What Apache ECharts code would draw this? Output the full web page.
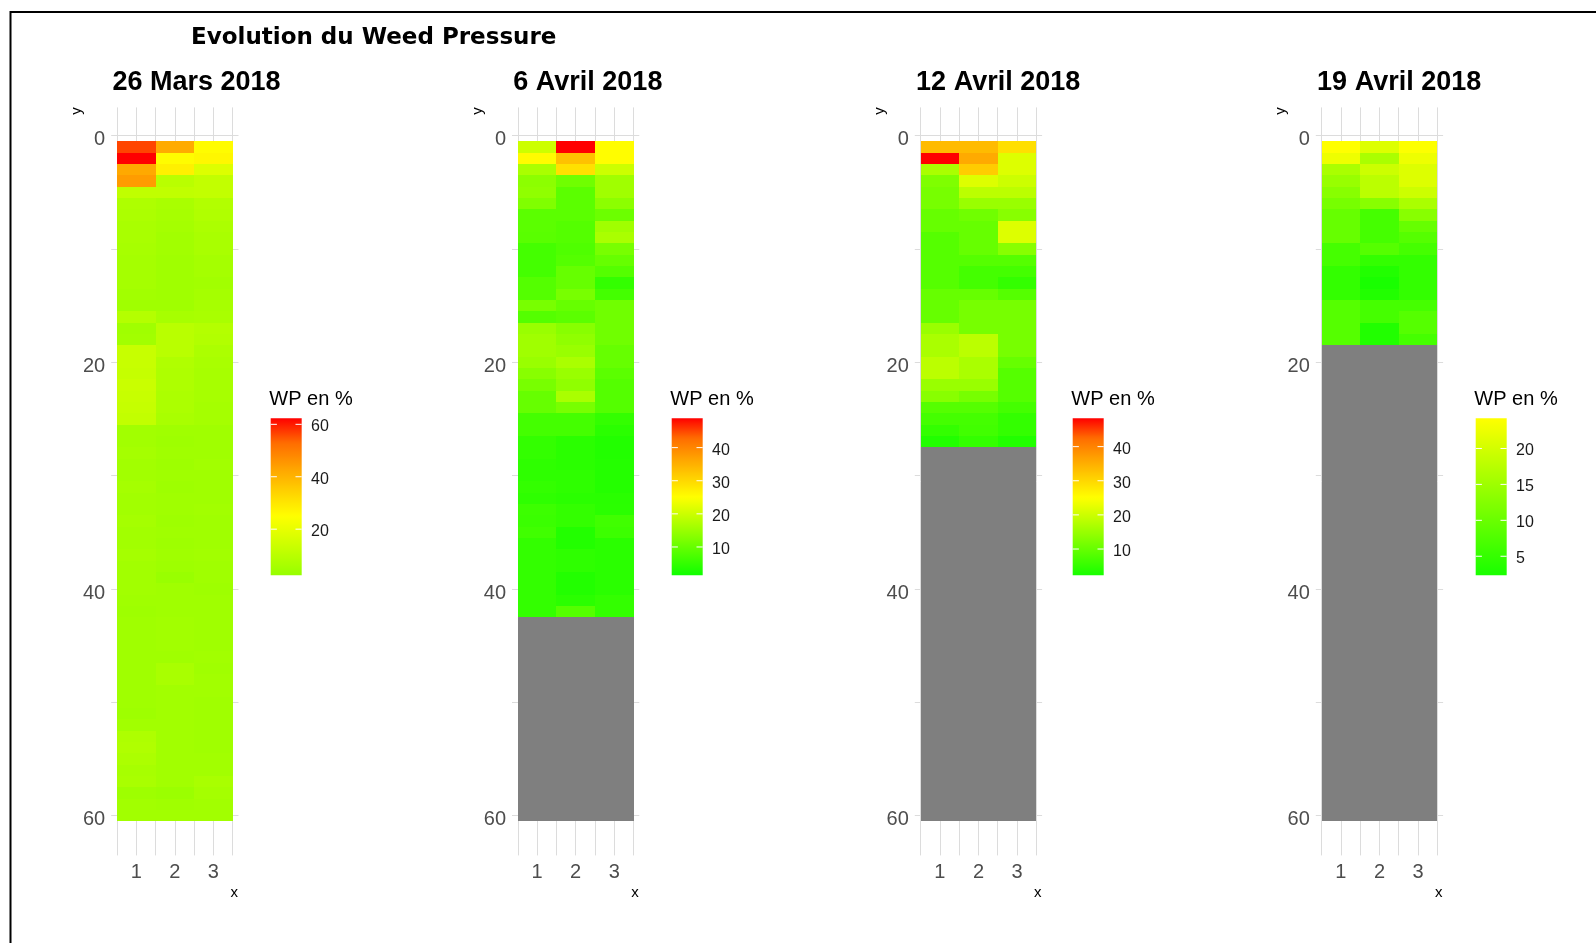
<!DOCTYPE html>
<html>
<head>
<meta charset="utf-8">
<script src="https://cdn.jsdelivr.net/npm/echarts@6/dist/echarts.min.js"></script>
<style>
html,body{margin:0;padding:0;background:#ffffff;}
#chart{width:1596px;height:943px;}
</style>
</head>
<body>
<div id="chart"></div>
<script>
// ---------------- DATA ----------------
const mainTitle = 'Evolution du Weed Pressure';
const panelTitles = ['26 Mars 2018', '6 Avril 2018', '12 Avril 2018', '19 Avril 2018'];
const xValues = [1, 2, 3];
const xGridValues = [0.5, 1, 1.5, 2, 2.5, 3, 3.5];
const yTickValues = [0, 20, 40, 60];
const yGridValues = [0, 10, 20, 30, 40, 50, 60];
const nRows = 60;            // rows y = 1..60 ; rows without a value are NA (grey)
const legendTitle = 'WP en %';

// WP values (%), one array per column x, row y = index + 1
const mars26_x1 = [56.3,62.3,42,44.5,11.5,7.5,7,6.5,6.5,6,5.5,5.5,5.5,5,4.5,9,4.5,5,13,13,12.5,13.5,13,12.5,12,5,5,5.5,5,5,5.5,5,5,5.5,5,5,5.5,5,5,5,4.5,4,4.5,4.5,4.5,4.5,4.5,4.5,4.5,4.5,4,5,7.5,8,7,6,6.5,4,5,5];
const mars26_x2 = [41.8,25.5,28,10,11.5,6.5,6,5.5,5,5,4.5,4.5,4.5,4.5,4.5,6,10,10,10,8,7.5,7.5,7,7,6.5,4.5,4,4.5,4,4.5,4,4.5,4.5,4,4.5,4,4.5,4,3,4.5,4.5,4.5,5,5,5,4.5,6.5,6.5,5,5,5,5,5,5,5,5,5,3.5,4.5,5];
const mars26_x3 = [25.5,26.5,17.5,12,12,8.5,8,7,6.5,6.5,5.5,5.5,5,5.5,6,6.5,9,8.5,7,6.5,6,6,6,5.5,5.5,4.5,4.5,4.5,5,4.5,4.5,4.5,5,4.5,4.5,4.5,5,4.5,4.5,4,4.5,4.5,4.5,4.5,4.5,5,4.5,5,5,4.5,4.5,4.5,4.5,4.5,5,5,6.5,5.5,5,5];

const avril6_x1 = [20,25.5,16.7,13.7,14.1,12.5,9,9,8.8,6.7,6.7,6.7,8.3,8.3,11.7,8.3,15,15.7,15.7,15,13.3,11.7,10,10,6.7,6.7,5,5,4.5,4.5,5,4.5,5.9,5.7,6.3,5,5,5,5,5,5,5];
const avril6_x2 = [48.85,33,29,11,9,9,9,8.3,8.3,7.8,8.3,10,10,11.7,10,9,13.3,14.1,15,16.7,15,14.1,16.7,11.7,6.7,6.7,4.1,4.1,4.1,4.5,4.5,4.1,5,5,3.3,3.3,4.5,4.5,3.3,3.3,4.1,8.3];
const avril6_x3 = [25.3,25.3,20,15.7,15.7,13.7,10.6,15.7,16.7,11.7,10,8.3,5,6.7,11,11,11,11,10,10,9,8.3,8.3,8.3,5,4.1,3.3,3.3,3.5,3.5,3.5,4,4.1,6.3,5.9,4.1,4.1,4.1,4.1,4.1,5,5];

const avril12_x1 = [33.5,48.3,16.7,12.5,11.7,11.7,10,10,8.3,8.3,8.3,8.3,8.3,10,10,10,15,16.7,16.7,18.3,18.3,15,13.3,8.3,6.7,5,3.3];
const avril12_x2 = [33.5,35.5,31.4,21.7,18.3,15,11,10,10,10,8.3,6.7,6.7,10,11.7,11.7,11.7,18.3,18.3,16.7,16.7,15,11.7,8.3,6.7,6.3,5];
const avril12_x3 = [29,21.7,21.7,20,18.3,15,13.3,21.7,21.7,13.3,8.3,6.7,5,8.3,11.7,11.7,11.7,11.7,11.7,10,8.3,8.3,8.3,6.7,5,5,3.3];

const avril19_x1 = [24.2,22.6,16.1,14.5,12.9,11.3,9.7,9.7,9.7,6.5,6.5,4.8,4.8,4.8,8.1,8.1,8.1,8.1];
const avril19_x2 = [21,16.1,19.4,17.7,17.7,12.9,6.5,6.5,6.5,8.1,4.8,3.2,2.35,3.2,6.5,6.5,3.2,3.2];
const avril19_x3 = [24,22.6,21,21,19.4,16.1,12.9,9.7,8.1,6.5,4.8,4.8,4.8,4.8,6.5,8.1,8.1,6.5];

// colour-bar limits and labels per panel
const legendMin = [2.4, 1.45, 2.3, 2.35];
const legendMax = [62.3, 48.85, 48.3, 24.2];
const legendTicks = [[20, 40, 60], [10, 20, 30, 40], [10, 20, 30, 40], [5, 10, 15, 20]];

const panelColumns = [
  [mars26_x1, mars26_x2, mars26_x3],
  [avril6_x1, avril6_x2, avril6_x3],
  [avril12_x1, avril12_x2, avril12_x3],
  [avril19_x1, avril19_x2, avril19_x3]
];

// ---------------- STYLE / LAYOUT ----------------
const FONT = '"Liberation Sans", Arial, sans-serif';
const gridLefts = [111.2, 512, 914.8, 1315.8];
const gridTop = 107.4, gridW = 127.3, gridH = 748;
const barLefts = [270.7, 671.7, 1072.7, 1475.7];
const barTop = 418.3, barH = 157, barW = 31;
// colour scales: green anchor, yellow anchor, red anchor (value space)
const colourScales = [
  {green: -30, yellow: 25, red: 62.3},
  {green: 0, yellow: 25, red: 48.85},
  {green: 0, yellow: 25, red: 48.3},
  {green: 0, yellow: 24.2, red: 50}
];
const redRamp = ['#ffff00', '#ffd100', '#ffa100', '#ff6c00', '#ff0000'];

function hexToRgb(h) { return [parseInt(h.slice(1,3),16), parseInt(h.slice(3,5),16), parseInt(h.slice(5,7),16)]; }
function rgbStr(c) { return 'rgb(' + c.map(v => Math.round(Math.max(0, Math.min(255, v)))).join(',') + ')'; }
function colourAt(v, sc) {
  if (v <= sc.yellow) {
    const t = Math.max(0, (v - sc.green) / (sc.yellow - sc.green));
    return [255 * t, 255, 0];
  }
  const s = Math.min(1, (v - sc.yellow) / (sc.red - sc.yellow)) * 4;
  const i = Math.min(3, Math.floor(s));
  const f = s - i;
  const a = hexToRgb(redRamp[i]), b = hexToRgb(redRamp[i + 1]);
  return a.map((x, k) => x + (b[k] - x) * f);
}
function samples(i, n) {
  const out = [];
  for (let k = 0; k <= n; k++) {
    const v = legendMin[i] + (legendMax[i] - legendMin[i]) * k / n;
    out.push(rgbStr(colourAt(v, colourScales[i])));
  }
  return out;
}

// ---------------- BUILD ----------------
const chart = echarts.init(document.getElementById('chart'), null, {renderer: 'canvas'});

const grids = [], xAxes = [], yAxes = [], series = [], visualMaps = [], graphics = [];

graphics.push({type: 'rect', shape: {x: 10.5, y: 12, width: 1600, height: 960},
  style: {fill: 'none', stroke: '#000', lineWidth: 2}, z: 100});
graphics.push({type: 'text', x: 191, y: 38.5,
  style: {text: mainTitle, fontSize: 23, fontWeight: 'bold', fontFamily: '"DejaVu Sans", sans-serif',
    fill: '#000', align: 'left', verticalAlign: 'middle'}});

panelColumns.forEach((cols, i) => {
  grids.push({left: gridLefts[i], top: gridTop, width: gridW, height: gridH, containLabel: false});
  const axisTextStyle = {fontSize: 20, color: '#4d4d4d', fontFamily: FONT};
  const gridLineStyle = {color: '#dcdcdc', width: 1};
  xAxes.push({type: 'value', gridIndex: i, min: 0.35, max: 3.65,
    axisLine: {show: false},
    axisTick: {show: false, customValues: xGridValues},
    axisLabel: Object.assign({customValues: xValues, margin: 7}, axisTextStyle),
    splitLine: {show: true, lineStyle: gridLineStyle}});
  yAxes.push({type: 'value', gridIndex: i, inverse: true, min: -2.5, max: 63.5,
    axisLine: {show: false},
    axisTick: {show: false, customValues: yGridValues},
    axisLabel: Object.assign({customValues: yTickValues, margin: 6,
      formatter: '{a|{value}}',
      rich: {a: {fontSize: 20, color: '#4d4d4d', fontFamily: FONT, padding: [8, 0, 0, 0]}}}, axisTextStyle),
    splitLine: {show: true, lineStyle: gridLineStyle}});

  const data = [];
  for (let r = 1; r <= nRows; r++) {
    for (let c = 0; c < xValues.length; c++) {
      const v = cols[c][r - 1];
      data.push([xValues[c], r, (v === undefined || v === null) ? null : v]);
    }
  }
  series.push({type: 'custom', xAxisIndex: i, yAxisIndex: i, silent: true,
    encode: {x: 0, y: 1},
    data: data,
    renderItem: function (params, api) {
      const x = api.value(0), y = api.value(1), v = api.value(2);
      const p1 = api.coord([x - 0.5, y - 0.5]);
      const p2 = api.coord([x + 0.5, y + 0.5]);
      const x0 = Math.round(Math.min(p1[0], p2[0])), x1 = Math.round(Math.max(p1[0], p2[0]));
      const y0 = Math.round(Math.min(p1[1], p2[1])), y1 = Math.round(Math.max(p1[1], p2[1]));
      const na = (v === null || v === undefined || isNaN(v));
      const fill = na ? '#7f7f7f' : api.visual('color');
      return {type: 'rect',
        shape: {x: x0, y: y0, width: x1 - x0, height: y1 - y0},
        style: {fill: fill}};
    }});
  visualMaps.push({type: 'continuous', show: false, seriesIndex: i, dimension: 2,
    min: legendMin[i], max: legendMax[i], inRange: {color: samples(i, 80)}});

  // panel title
  graphics.push({type: 'text', x: gridLefts[i] + 1.3, y: 83,
    style: {text: panelTitles[i], fontSize: 27, fontWeight: 'bold', fontFamily: FONT,
      fill: '#000', align: 'left', verticalAlign: 'middle'}});
  // axis titles
  graphics.push({type: 'text', x: gridLefts[i] - 34.5, y: 111, rotation: Math.PI / 2,
    style: {text: 'y', fontSize: 15, fontFamily: FONT, fill: '#000', align: 'center', verticalAlign: 'middle'}});
  graphics.push({type: 'text', x: gridLefts[i] + gridW - 4.3, y: 892.5,
    style: {text: 'x', fontSize: 15, fontFamily: FONT, fill: '#000', align: 'center', verticalAlign: 'middle'}});

  // colour bar legend
  const stops = [];
  const n = 60;
  for (let k = 0; k <= n; k++) {
    const v = legendMin[i] + (legendMax[i] - legendMin[i]) * k / n;
    stops.push({offset: k / n, color: rgbStr(colourAt(v, colourScales[i]))});
  }
  const bl = barLefts[i];
  graphics.push({type: 'text', x: bl - 1.4, y: 399.5,
    style: {text: legendTitle, fontSize: 20, fontFamily: FONT, fill: '#000', align: 'left', verticalAlign: 'middle'}});
  graphics.push({type: 'rect', shape: {x: bl, y: barTop, width: barW, height: barH},
    style: {fill: {type: 'linear', x: 0, y: 1, x2: 0, y2: 0, colorStops: stops}}});
  legendTicks[i].forEach(t => {
    const ty = barTop + barH * (1 - (t - legendMin[i]) / (legendMax[i] - legendMin[i]));
    graphics.push({type: 'line', shape: {x1: bl, y1: ty, x2: bl + 6.2, y2: ty}, style: {stroke: '#ffffff', lineWidth: 1}});
    graphics.push({type: 'line', shape: {x1: bl + barW - 6.2, y1: ty, x2: bl + barW, y2: ty}, style: {stroke: '#ffffff', lineWidth: 1}});
    graphics.push({type: 'text', x: bl + barW + 9.3, y: ty + 2.5,
      style: {text: String(t), fontSize: 16, fontFamily: FONT, fill: '#1a1a1a', align: 'left', verticalAlign: 'middle'}});
  });
});

chart.setOption({
  animation: false,
  backgroundColor: '#ffffff',
  grid: grids,
  xAxis: xAxes,
  yAxis: yAxes,
  visualMap: visualMaps,
  series: series,
  graphic: graphics
});
</script>
</body>
</html>
